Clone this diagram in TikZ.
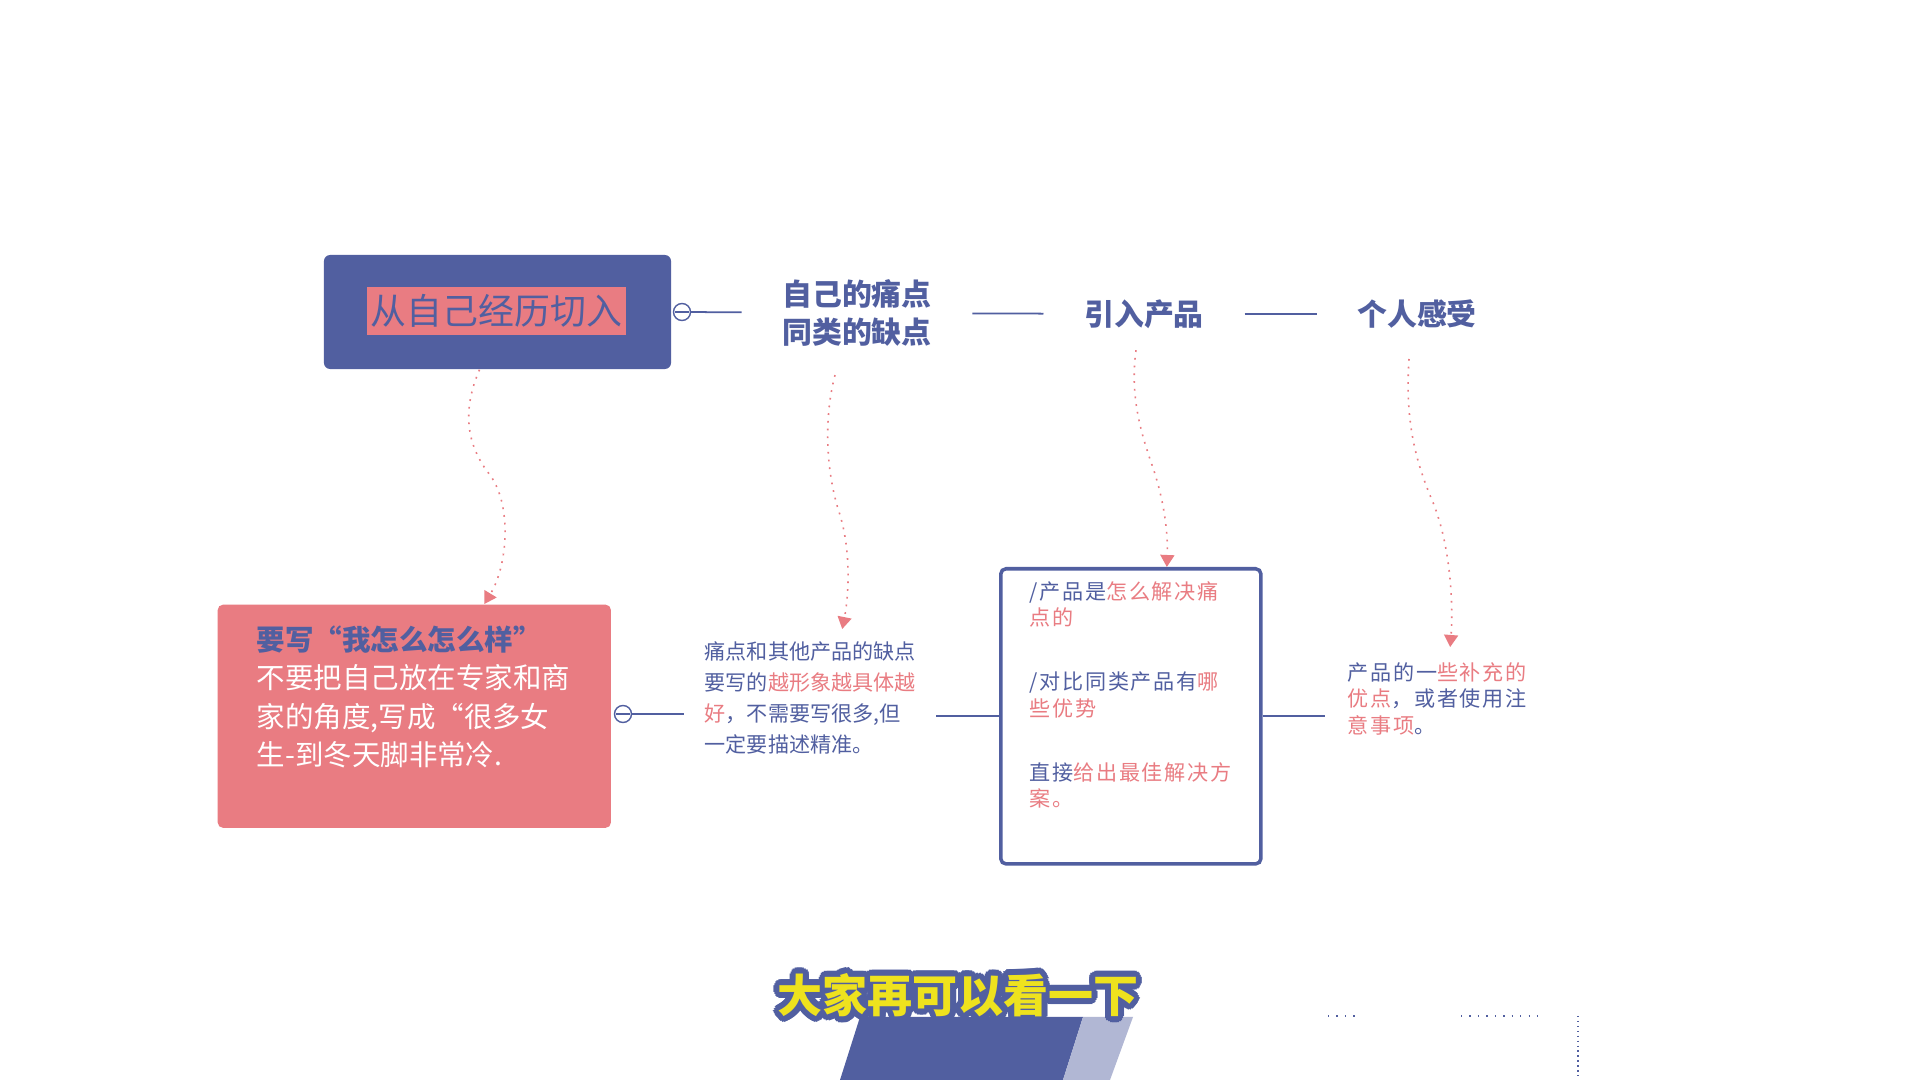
\documentclass[tikz,border=0pt]{standalone}
\usepackage{fontspec}
\setmainfont{Noto Sans CJK SC}
\newfontfamily\spaced[LetterSpace=8]{Noto Sans CJK SC}
\usepackage{xcolor}
\usetikzlibrary{arrows.meta,calc}
\definecolor{inkblue}{RGB}{81,95,160}
\definecolor{rosepink}{RGB}{233,124,130}
\definecolor{banneryellow}{RGB}{238,226,30}

\begin{document}
\begin{tikzpicture}[x=0.01cm, y=-0.01cm, >={Triangle[width=0.14cm,length=0.12cm]},
  link/.style={inkblue, line width=0.5pt},
  fold/.style={circle, draw=inkblue, fill=white, line width=0.4pt, minimum size=0.17cm, inner sep=0pt,
    path picture={\draw[inkblue, line width=0.4pt] ([xshift=0.5pt]path picture bounding box.west) -- ([xshift=-0.5pt]path picture bounding box.east);}},
  topic/.style={text=inkblue, font=\bfseries\fontsize{8.5}{10.8}\selectfont, align=center, inner xsep=0.4cm, inner ysep=0pt},
  note/.style={text=inkblue, font=\spaced\fontsize{6}{7.5}\selectfont, align=left, inner xsep=0.22cm, inner ysep=0pt, anchor=north west},
  hint/.style={->, rosepink, line width=0.45pt, dash pattern=on 0.5pt off 1.7pt},
  banner/.style={font=\bfseries\fontsize{12.8}{14}\selectfont, inner sep=0pt}]
  \fill[white] (0,0) rectangle (1920,1080);
  \useasboundingbox (0,0) rectangle (1920,1080);

  \node (start) [fill=inkblue, rounded corners=1.8pt, minimum width=3.47cm, minimum height=1.14cm] at (497.5,312) {};
  \node (starttxt) [fill=rosepink, text=inkblue, minimum width=2.59cm, minimum height=0.48cm, inner sep=0pt,
    font=\fontsize{10.2}{12}\selectfont] at (496.5,311) {从自己经历切入};
  \node (fold1) [fold] at (682,312) {};
  \node (pain) [topic] at (857,313) {自己的痛点\\同类的缺点};
  \node (prod) [topic] at (1144,314) {引入产品};
  \node (feel) [topic] at (1417,314) {个人感受};
  \draw[link] (fold1) -- (pain);
  \draw[link] (pain) -- (prod);
  \draw[link] (prod) -- (feel);

  \node (me) [fill=rosepink, rounded corners=1.5pt, minimum width=3.93cm, minimum height=2.23cm, anchor=north west] at (217,604) {};
  \node (metxt) [anchor=north west, inner sep=0pt, align=left, text=white, font=\fontsize{8.1}{10.95}\selectfont] at (256,625)
    {{\bfseries\color{inkblue}要写“我怎么怎么样”}\\不要把自己放在专家和商\\家的角度,写成“很多女\\生-到冬天脚非常冷.};
  \node (fold2) [fold] at (623,714) {};
  \node (detail) [anchor=north west, text=inkblue, align=left, inner xsep=0.2cm, inner ysep=0pt,
    font=\fontsize{6}{8.8}\selectfont] at (684,641)
    {痛点和其他产品的缺点\\要写的{\color{rosepink}越形象越具体越}\\{\color{rosepink}好}，不需要写很多,但\\一定要描述精准。};
  \node (solve) [draw=inkblue, line width=1pt, rounded corners=1.5pt, minimum width=2.6cm, minimum height=2.95cm, anchor=north west] at (999,567) {};
  \node (solvetxt) [note, inner xsep=0pt] at (1029,581)
    {/产品是{\color{rosepink}怎么解决痛}\\{\color{rosepink}点的}\\[10.7pt]
     /对比同类产品有{\color{rosepink}哪}\\{\color{rosepink}些优势}\\[10.7pt]
     直接{\color{rosepink}给出最佳解决方}\\{\color{rosepink}案。}};
  \node (extra) [note] at (1325,662)
    {产品的一{\color{rosepink}些补充的}\\{\color{rosepink}优点}，或者使用注\\{\color{rosepink}意事项}。};
  \draw[link] (fold2) -- (detail.west |- fold2);
  \draw[link] (detail.east |- solve.west) -- (solve.west);
  \draw[link] (solve.east) -- (extra.west |- solve.east);

  \draw[hint] ([xshift=-0.18cm]start.south) .. controls (462,410) and (466,445) .. (490,475)
    .. controls (512,505) and (508,565) .. ([xshift=0.7cm]me.north);
  \draw[hint] ([xshift=-0.22cm,yshift=-0.28cm]pain.south) .. controls (822,425) and (828,480) .. (840,515)
    .. controls (852,555) and (848,600) .. ([xshift=0.32cm,yshift=0.12cm]detail.north);
  \draw[hint] ([xshift=-0.08cm,yshift=-0.21cm]prod.south) .. controls (1130,395) and (1140,430) .. (1152,465)
    .. controls (1166,505) and (1168,540) .. ([xshift=0.36cm]solve.north);
  \draw[hint] ([xshift=-0.08cm,yshift=-0.3cm]feel.south) .. controls (1405,420) and (1415,460) .. (1432,500)
    .. controls (1452,548) and (1453,610) .. ([xshift=0.13cm,yshift=0.15cm]extra.north);

  \fill[inkblue] (860,1017) -- (1083,1017) -- (1063,1080) -- (840,1080) -- cycle;
  \fill[inkblue!45] (1083,1017) -- (1133,1017) -- (1110,1080) -- (1063,1080) -- cycle;
  \foreach \a [count=\i] in {0,20,...,340}
    \node (rim\i) [banner, text=inkblue] at ($(958,995)+(\a:6)$) {大家再可以看一下};
  \node (caption) [banner, text=banneryellow] at (958,995) {大家再可以看一下};

  \draw[inkblue, dotted] (1328,1016) -- (1356,1016) (1461,1016) -- (1541,1016);
  \draw[inkblue, densely dotted] (1578,1016) -- (1578,1080);
\end{tikzpicture}
\end{document}
